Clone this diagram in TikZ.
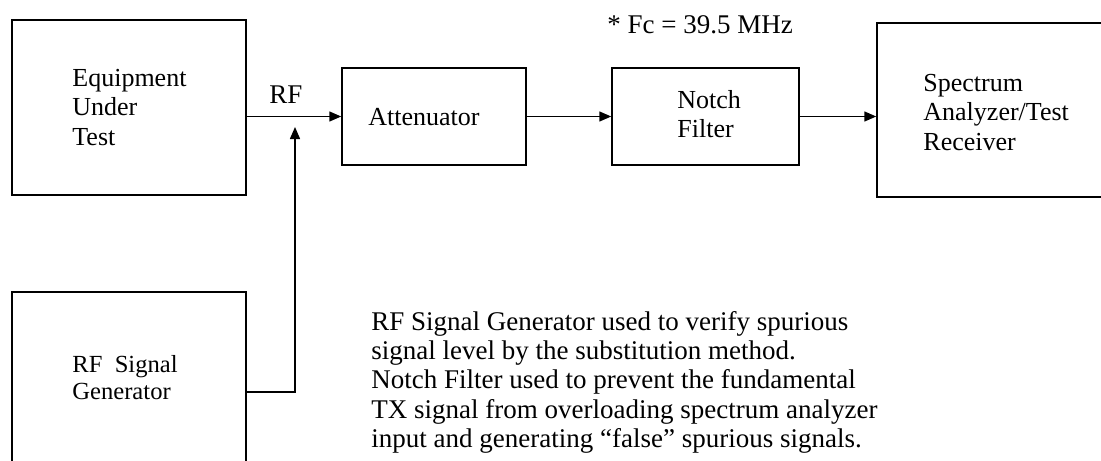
\documentclass[tikz,border=0pt]{standalone}
\usepackage{fontspec}
\setmainfont{Liberation Serif}
\usetikzlibrary{arrows.meta,fit}
\begin{document}
\begin{tikzpicture}[x=0.5pt,y=-0.5pt,
  box/.style={draw,line width=0.75pt,inner sep=0pt,rectangle},
  lbl/.style={inner sep=0pt,align=left,anchor=north west,font=\fontsize{13}{14.6}\selectfont},
  arr/.style={line width=0.75pt,-{Triangle[length=6pt,width=5pt]}},
  wire/.style={line width=0.75pt}]
\useasboundingbox (0,0) rectangle (1101,460);
\fill[white] (0,0) rectangle (1101,460);
\clip (0,0) rectangle (1101,460);
% boxes
\node[box,fit={(12,20) (246,195)}] (eut) {};
\node[box,fit={(342,68) (526,165)}] (att) {};
\node[box,fit={(612,68) (799,165)}] (notch) {};
\node[box,fit={(877,23) (1120,197)}] (spec) {};
\node[box,fit={(12,292) (246,480)}] (gen) {};
% box texts
\node[lbl] (eutt) at (72,69) {Equipment\\Under\\Test};
\node[lbl] (attt) at (368,108) {Attenuator};
\node[lbl] (notcht) at (677,90) {Notch\\Filter};
\node[lbl] (spect) at (923,74) {Spectrum\\Analyzer/Test\\Receiver};
\node[lbl,font=\fontsize{12.3}{13.3}\selectfont] (gent) at (72,355) {RF\ \ Signal\\Generator};
% labels
\node[lbl,font=\fontsize{13.5}{14}\selectfont] (rf) at (269,85) {RF};
\node[lbl,font=\fontsize{13.5}{14}\selectfont] (fc) at (607,15) {* Fc = 39.5 MHz};
\node[lbl,font=\fontsize{13.5}{14.6}\selectfont] (note) at (371,311) {RF Signal Generator used to verify spurious\\signal level by the substitution method.\\Notch Filter used to prevent the fundamental\\TX signal from overloading spectrum analyzer\\input and generating “false” spurious signals.};
% connectors
\coordinate (tap) at (295,392);
\coordinate (tip) at (295,127);
\draw[arr] (eut.east |- att.west) -- (att.west);
\draw[arr] (att.east) -- (notch.west);
\draw[arr] (notch.east) -- (notch.east -| spec.west);
\draw[arr] (gen.east |- tap) -- (tap) -- (tip);
\end{tikzpicture}
\end{document}
